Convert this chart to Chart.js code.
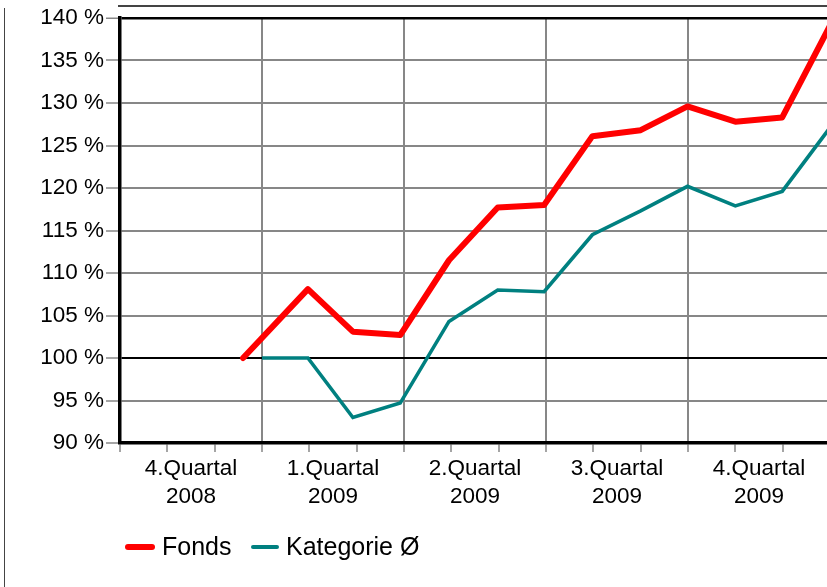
<!DOCTYPE html>
<html>
<head>
<meta charset="utf-8">
<script src="https://cdn.jsdelivr.net/npm/chart.js@4.4.1/dist/chart.umd.min.js"></script>
<style>
  html, body { margin: 0; padding: 0; background: #fff; overflow: hidden; width: 827px; height: 587px; }
  #wrap { position: absolute; left: 0; top: 0; width: 840px; height: 587px; }
  .frameL { position: absolute; left: 3.5px; top: 8px; width: 1.5px; height: 600px; background: #444; }
  .frameT { position: absolute; left: 118px; top: 5px; width: 720px; height: 1.5px; background: #444; }
  .legend { position: absolute; top: 532px; left: 0; font-family: "Liberation Sans", Arial, sans-serif; font-size: 25px; color: #000; }
  .item { position: absolute; top: 0; white-space: nowrap; line-height: 28px; }
  .sw { position: absolute; border-radius: 3px; }
</style>
</head>
<body>
<div id="wrap"><canvas id="c" width="840" height="587"></canvas></div>
<div class="frameL"></div>
<div class="frameT"></div>
<div class="legend">
  <div class="sw" style="left:125px; top:12px; width:30px; height:5.5px; background:#ff0000;"></div>
  <div class="item" style="left:162px;">Fonds</div>
  <div class="sw" style="left:251px; top:12.5px; width:28px; height:4px; background:#008080;"></div>
  <div class="item" style="left:286px;">Kategorie Ø</div>
</div>
<script>
// Time axis: months since 1 Oct 2008
const quarterLabels = [["4.Quartal","2008"],["1.Quartal","2009"],["2.Quartal","2009"],["3.Quartal","2009"],["4.Quartal","2009"]];
const monthsFonds = [2.6, 3.97, 4.92, 5.92, 6.95, 7.98, 8.96, 9.98, 11.0, 11.99, 13.0, 13.99, 15.0];
const fonds       = [100, 108.1, 103.1, 102.7, 111.5, 117.7, 118.0, 126.1, 126.8, 129.6, 127.8, 128.3, 139.1];
const monthsKat   = [3.0, 3.97, 4.92, 5.92, 6.95, 7.98, 8.96, 9.98, 11.0, 11.99, 13.0, 13.99, 15.0];
const kategorie   = [100, 100, 93.0, 94.7, 104.3, 108.0, 107.8, 114.5, 117.3, 120.2, 117.9, 119.6, 127.1];
const yTicks = [90, 95, 100, 105, 110, 115, 120, 125, 130, 135, 140];

const toXY = (xs, ys) => xs.map((x, i) => ({x: x, y: ys[i]}));
const GRAY = '#878787';

new Chart(document.getElementById('c'), {
  type: 'line',
  data: {
    datasets: [
      { label: 'Fonds', data: toXY(monthsFonds, fonds), borderColor: '#ff0000', borderWidth: 6,
        pointRadius: 0, tension: 0, borderCapStyle: 'round', borderJoinStyle: 'round' },
      { label: 'Kategorie Ø', data: toXY(monthsKat, kategorie), borderColor: '#008080', borderWidth: 3.6,
        pointRadius: 0, tension: 0, borderJoinStyle: 'miter' }
    ]
  },
  options: {
    responsive: false,
    animation: false,
    layout: { padding: { top: 18, right: 10, left: 0, bottom: 0 } },
    plugins: { legend: { display: false }, tooltip: { enabled: false } },
    scales: {
      x: {
        type: 'linear', min: 0, max: 15,
        afterBuildTicks: (scale) => {
          const t = [];
          for (let v = 0; v <= 15; v += 0.5) t.push({ value: v });
          scale.ticks = t;
        },
        afterFit: (scale) => { scale.height = 144; },
        border: { color: '#000', width: 3.5 },
        grid: {
          color: (ctx) => (ctx.tick && ctx.tick.value % 3 === 0) ? GRAY : 'rgba(0,0,0,0)',
          tickColor: (ctx) => (ctx.tick && Number.isInteger(ctx.tick.value)) ? GRAY : 'rgba(0,0,0,0)',
          lineWidth: 2,
          tickLength: 9,
          tickWidth: 1.5
        },
        ticks: {
          autoSkip: false, maxRotation: 0, minRotation: 0, padding: 3,
          color: '#000',
          font: { family: '"Liberation Sans", Arial, sans-serif', size: 22.5, lineHeight: 1.24 },
          callback: (v) => {
            const r = v % 3;
            if (Math.abs(r - 1.5) < 1e-6) return quarterLabels[Math.floor(v / 3)];
            return '';
          }
        }
      },
      y: {
        min: 90, max: 140,
        afterBuildTicks: (scale) => { scale.ticks = yTicks.map(v => ({ value: v })); },
        afterFit: (scale) => { scale.width = 120; },
        border: { color: '#000', width: 3.5 },
        grid: {
          color: (ctx) => (ctx.tick && (ctx.tick.value === 100 || ctx.tick.value === 140)) ? '#000' : GRAY,
          tickColor: GRAY,
          lineWidth: (ctx) => (ctx.tick && ctx.tick.value === 140) ? 2.5 : 2,
          tickLength: 14,
          tickWidth: 1.5
        },
        ticks: {
          padding: 2, color: '#000',
          font: { family: '"Liberation Sans", Arial, sans-serif', size: 22.5 },
          callback: (v) => v + ' %'
        }
      }
    }
  }
});
</script>
</body>
</html>
